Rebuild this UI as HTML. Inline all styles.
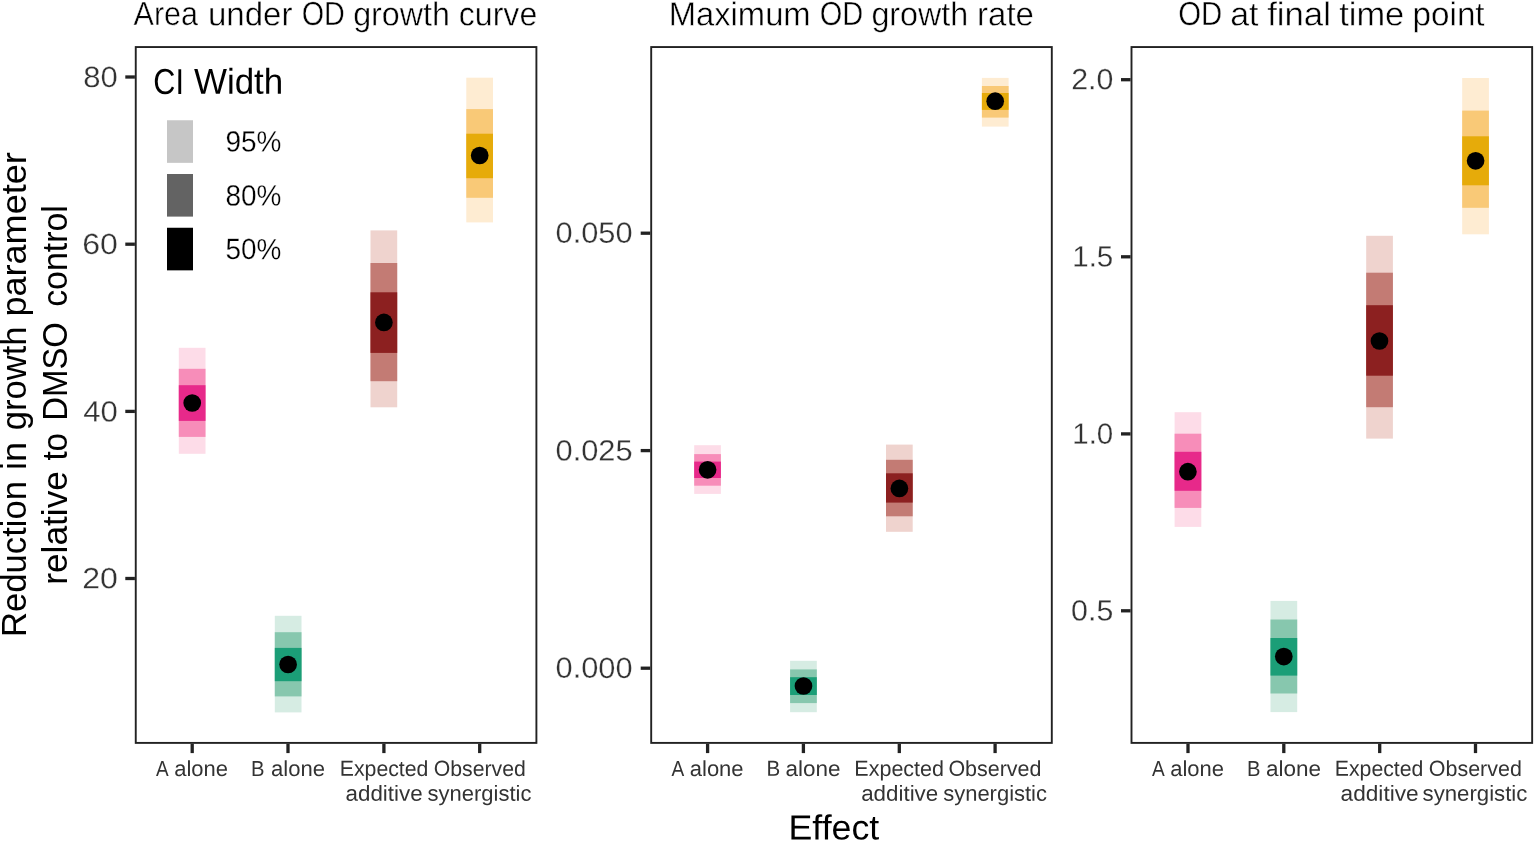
<!DOCTYPE html>
<html><head><meta charset="utf-8"><title>Effect plot</title>
<style>html,body{margin:0;padding:0;background:#fff}svg{display:block}</style></head>
<body>
<svg width="1535" height="842" viewBox="0 0 1535 842" font-family='"Liberation Sans", sans-serif'>
<rect width="1535" height="842" fill="#fff"/>
<rect x="178.8" y="347.8" width="26.7" height="106.0" fill="#fddce8"/>
<rect x="178.8" y="368.8" width="26.7" height="68.1" fill="#f78db9"/>
<rect x="178.8" y="385.2" width="26.7" height="35.7" fill="#e7298a"/>
<circle cx="192.2" cy="403.0" r="8.85" fill="#000"/>
<rect x="274.8" y="615.8" width="26.7" height="96.6" fill="#d6ece3"/>
<rect x="274.8" y="632.2" width="26.7" height="64.2" fill="#87c7ae"/>
<rect x="274.8" y="647.9" width="26.7" height="33.3" fill="#1b9e77"/>
<circle cx="288.1" cy="664.5" r="8.85" fill="#000"/>
<rect x="370.5" y="230.4" width="26.7" height="176.9" fill="#efd3ce"/>
<rect x="370.5" y="263.0" width="26.7" height="118.2" fill="#c37b74"/>
<rect x="370.5" y="292.3" width="26.7" height="60.6" fill="#8c2020"/>
<circle cx="383.9" cy="322.4" r="8.85" fill="#000"/>
<rect x="466.3" y="77.7" width="26.7" height="144.7" fill="#feecd2"/>
<rect x="466.3" y="109.1" width="26.7" height="88.7" fill="#f9c977"/>
<rect x="466.3" y="133.7" width="26.7" height="44.5" fill="#e6ab0a"/>
<circle cx="479.7" cy="155.5" r="8.85" fill="#000"/>
<rect x="694.2" y="445.2" width="26.7" height="48.7" fill="#fddce8"/>
<rect x="694.2" y="454.1" width="26.7" height="31.6" fill="#f78db9"/>
<rect x="694.2" y="461.6" width="26.7" height="16.4" fill="#e7298a"/>
<circle cx="707.6" cy="469.8" r="8.85" fill="#000"/>
<rect x="790.1" y="660.8" width="26.7" height="51.4" fill="#d6ece3"/>
<rect x="790.1" y="669.4" width="26.7" height="33.7" fill="#87c7ae"/>
<rect x="790.1" y="677.2" width="26.7" height="17.8" fill="#1b9e77"/>
<circle cx="803.5" cy="686.0" r="8.85" fill="#000"/>
<rect x="886.0" y="444.6" width="26.7" height="87.2" fill="#efd3ce"/>
<rect x="886.0" y="459.8" width="26.7" height="56.5" fill="#c37b74"/>
<rect x="886.0" y="473.3" width="26.7" height="29.3" fill="#8c2020"/>
<circle cx="899.4" cy="488.4" r="8.85" fill="#000"/>
<rect x="981.9" y="77.9" width="26.7" height="48.7" fill="#feecd2"/>
<rect x="981.9" y="86.0" width="26.7" height="31.6" fill="#f9c977"/>
<rect x="981.9" y="93.0" width="26.7" height="16.9" fill="#e6ab0a"/>
<circle cx="995.2" cy="101.2" r="8.85" fill="#000"/>
<rect x="1174.6" y="412.2" width="26.7" height="114.7" fill="#fddce8"/>
<rect x="1174.6" y="433.7" width="26.7" height="74.2" fill="#f78db9"/>
<rect x="1174.6" y="451.8" width="26.7" height="39.0" fill="#e7298a"/>
<circle cx="1187.9" cy="471.7" r="8.85" fill="#000"/>
<rect x="1270.5" y="600.9" width="26.7" height="111.2" fill="#d6ece3"/>
<rect x="1270.5" y="619.5" width="26.7" height="74.0" fill="#87c7ae"/>
<rect x="1270.5" y="638.0" width="26.7" height="37.6" fill="#1b9e77"/>
<circle cx="1283.8" cy="656.6" r="8.85" fill="#000"/>
<rect x="1366.2" y="235.8" width="26.7" height="202.8" fill="#efd3ce"/>
<rect x="1366.2" y="272.7" width="26.7" height="134.5" fill="#c37b74"/>
<rect x="1366.2" y="305.2" width="26.7" height="70.5" fill="#8c2020"/>
<circle cx="1379.5" cy="341.0" r="8.85" fill="#000"/>
<rect x="1462.2" y="78.0" width="26.7" height="156.3" fill="#feecd2"/>
<rect x="1462.2" y="110.6" width="26.7" height="97.2" fill="#f9c977"/>
<rect x="1462.2" y="136.3" width="26.7" height="49.0" fill="#e6ab0a"/>
<circle cx="1475.6" cy="160.8" r="8.85" fill="#000"/>
<rect x="135.75" y="47.05" width="400.65" height="695.85" fill="none" stroke="#222222" stroke-width="1.9"/>
<rect x="651.20" y="47.05" width="400.60" height="695.85" fill="none" stroke="#222222" stroke-width="1.9"/>
<rect x="1131.50" y="47.05" width="400.65" height="695.85" fill="none" stroke="#222222" stroke-width="1.9"/>
<line x1="192.2" y1="743.8" x2="192.2" y2="753.1" stroke="#222222" stroke-width="3.3"/>
<line x1="288.0" y1="743.8" x2="288.0" y2="753.1" stroke="#222222" stroke-width="3.3"/>
<line x1="383.9" y1="743.8" x2="383.9" y2="753.1" stroke="#222222" stroke-width="3.3"/>
<line x1="479.7" y1="743.8" x2="479.7" y2="753.1" stroke="#222222" stroke-width="3.3"/>
<line x1="707.6" y1="743.8" x2="707.6" y2="753.1" stroke="#222222" stroke-width="3.3"/>
<line x1="803.4" y1="743.8" x2="803.4" y2="753.1" stroke="#222222" stroke-width="3.3"/>
<line x1="899.3" y1="743.8" x2="899.3" y2="753.1" stroke="#222222" stroke-width="3.3"/>
<line x1="995.1" y1="743.8" x2="995.1" y2="753.1" stroke="#222222" stroke-width="3.3"/>
<line x1="1188.0" y1="743.8" x2="1188.0" y2="753.1" stroke="#222222" stroke-width="3.3"/>
<line x1="1283.8" y1="743.8" x2="1283.8" y2="753.1" stroke="#222222" stroke-width="3.3"/>
<line x1="1379.7" y1="743.8" x2="1379.7" y2="753.1" stroke="#222222" stroke-width="3.3"/>
<line x1="1475.5" y1="743.8" x2="1475.5" y2="753.1" stroke="#222222" stroke-width="3.3"/>
<line x1="125.3" y1="77.0" x2="134.9" y2="77.0" stroke="#222222" stroke-width="3.3"/>
<line x1="125.3" y1="244.2" x2="134.9" y2="244.2" stroke="#222222" stroke-width="3.3"/>
<line x1="125.3" y1="411.4" x2="134.9" y2="411.4" stroke="#222222" stroke-width="3.3"/>
<line x1="125.3" y1="578.5" x2="134.9" y2="578.5" stroke="#222222" stroke-width="3.3"/>
<line x1="640.7" y1="233.2" x2="650.3" y2="233.2" stroke="#222222" stroke-width="3.3"/>
<line x1="640.7" y1="450.6" x2="650.3" y2="450.6" stroke="#222222" stroke-width="3.3"/>
<line x1="640.7" y1="668.2" x2="650.3" y2="668.2" stroke="#222222" stroke-width="3.3"/>
<line x1="1121.0" y1="79.7" x2="1130.6" y2="79.7" stroke="#222222" stroke-width="3.3"/>
<line x1="1121.0" y1="256.8" x2="1130.6" y2="256.8" stroke="#222222" stroke-width="3.3"/>
<line x1="1121.0" y1="433.9" x2="1130.6" y2="433.9" stroke="#222222" stroke-width="3.3"/>
<line x1="1121.0" y1="610.8" x2="1130.6" y2="610.8" stroke="#222222" stroke-width="3.3"/>
<rect x="167.0" y="120.25" width="26.0" height="42.6" fill="#c6c6c6"/>
<rect x="167.0" y="174.0" width="26.0" height="42.6" fill="#636363"/>
<rect x="167.0" y="227.75" width="26.0" height="42.6" fill="#000000"/>
<text transform="rotate(0.03 191.8 775.90)" font-size="21.7" fill="#333333"><tspan x="156.00" y="775.90" textLength="11.60" lengthAdjust="spacingAndGlyphs">A</tspan> <tspan x="174.20" y="775.90" textLength="53.82" lengthAdjust="spacingAndGlyphs">alone</tspan></text>
<text transform="rotate(0.03 288.4 775.90)" font-size="21.7" fill="#333333"><tspan x="251.03" y="775.90" textLength="13.47" lengthAdjust="spacingAndGlyphs">B</tspan> <tspan x="270.98" y="775.90" textLength="54.03" lengthAdjust="spacingAndGlyphs">alone</tspan></text>
<text transform="rotate(0.03 383.9 775.90)" font-size="21.7" fill="#333333" x="339.76" y="775.90" textLength="88.67" lengthAdjust="spacingAndGlyphs">Expected</text>
<text transform="rotate(0.03 479.3 775.90)" font-size="21.7" fill="#333333" x="433.77" y="775.90" textLength="92.04" lengthAdjust="spacingAndGlyphs">Observed</text>
<text transform="rotate(0.03 383.9 800.70)" font-size="21.7" fill="#333333" x="345.57" y="800.70" textLength="77.04" lengthAdjust="spacingAndGlyphs">additive</text>
<text transform="rotate(0.03 479.5 800.70)" font-size="21.7" fill="#333333" x="427.59" y="800.70" textLength="103.81" lengthAdjust="spacingAndGlyphs">synergistic</text>
<text transform="rotate(0.03 707.1 775.90)" font-size="21.7" fill="#333333"><tspan x="671.57" y="775.90" textLength="11.69" lengthAdjust="spacingAndGlyphs">A</tspan> <tspan x="689.78" y="775.90" textLength="53.84" lengthAdjust="spacingAndGlyphs">alone</tspan></text>
<text transform="rotate(0.03 803.8 775.90)" font-size="21.7" fill="#333333"><tspan x="766.49" y="775.90" textLength="13.72" lengthAdjust="spacingAndGlyphs">B</tspan> <tspan x="785.58" y="775.90" textLength="55.05" lengthAdjust="spacingAndGlyphs">alone</tspan></text>
<text transform="rotate(0.03 899.3 775.90)" font-size="21.7" fill="#333333" x="854.35" y="775.90" textLength="89.68" lengthAdjust="spacingAndGlyphs">Expected</text>
<text transform="rotate(0.03 994.7 775.90)" font-size="21.7" fill="#333333" x="948.38" y="775.90" textLength="93.05" lengthAdjust="spacingAndGlyphs">Observed</text>
<text transform="rotate(0.03 899.3 800.70)" font-size="21.7" fill="#333333" x="861.19" y="800.70" textLength="77.01" lengthAdjust="spacingAndGlyphs">additive</text>
<text transform="rotate(0.03 994.9 800.70)" font-size="21.7" fill="#333333" x="943.19" y="800.70" textLength="103.81" lengthAdjust="spacingAndGlyphs">synergistic</text>
<text transform="rotate(0.03 1187.5 775.90)" font-size="21.7" fill="#333333"><tspan x="1151.94" y="775.90" textLength="11.69" lengthAdjust="spacingAndGlyphs">A</tspan> <tspan x="1170.18" y="775.90" textLength="53.82" lengthAdjust="spacingAndGlyphs">alone</tspan></text>
<text transform="rotate(0.03 1284.2 775.90)" font-size="21.7" fill="#333333"><tspan x="1247.02" y="775.90" textLength="13.47" lengthAdjust="spacingAndGlyphs">B</tspan> <tspan x="1265.97" y="775.90" textLength="55.05" lengthAdjust="spacingAndGlyphs">alone</tspan></text>
<text transform="rotate(0.03 1379.7 775.90)" font-size="21.7" fill="#333333" x="1334.76" y="775.90" textLength="88.67" lengthAdjust="spacingAndGlyphs">Expected</text>
<text transform="rotate(0.03 1475.1 775.90)" font-size="21.7" fill="#333333" x="1428.79" y="775.90" textLength="93.05" lengthAdjust="spacingAndGlyphs">Observed</text>
<text transform="rotate(0.03 1379.7 800.70)" font-size="21.7" fill="#333333" x="1340.59" y="800.70" textLength="78.04" lengthAdjust="spacingAndGlyphs">additive</text>
<text transform="rotate(0.03 1475.2 800.70)" font-size="21.7" fill="#333333" x="1422.59" y="800.70" textLength="104.82" lengthAdjust="spacingAndGlyphs">synergistic</text>
<text transform="rotate(0.03 100.4 87.09)" font-size="29.3" fill="#333333" stroke="#fff" stroke-width="0.25" x="83.35" y="87.09" textLength="34.50" lengthAdjust="spacingAndGlyphs">80</text>
<text transform="rotate(0.03 100.4 254.04)" font-size="29.3" fill="#333333" stroke="#fff" stroke-width="0.25" x="82.28" y="254.04" textLength="35.62" lengthAdjust="spacingAndGlyphs">60</text>
<text transform="rotate(0.03 100.4 421.50)" font-size="29.3" fill="#333333" stroke="#fff" stroke-width="0.25" x="83.37" y="421.50" textLength="34.50" lengthAdjust="spacingAndGlyphs">40</text>
<text transform="rotate(0.03 100.4 588.32)" font-size="29.3" fill="#333333" stroke="#fff" stroke-width="0.25" x="82.28" y="588.32" textLength="35.62" lengthAdjust="spacingAndGlyphs">20</text>
<text transform="rotate(0.03 594.4 242.76)" font-size="29.3" fill="#333333" stroke="#fff" stroke-width="0.25" x="555.57" y="242.76" textLength="77.05" lengthAdjust="spacingAndGlyphs">0.050</text>
<text transform="rotate(0.03 594.4 460.53)" font-size="29.3" fill="#333333" stroke="#fff" stroke-width="0.25" x="555.57" y="460.53" textLength="77.05" lengthAdjust="spacingAndGlyphs">0.025</text>
<text transform="rotate(0.03 594.4 677.88)" font-size="29.3" fill="#333333" stroke="#fff" stroke-width="0.25" x="555.57" y="677.88" textLength="77.05" lengthAdjust="spacingAndGlyphs">0.000</text>
<text transform="rotate(0.03 1092.3 89.32)" font-size="29.3" fill="#333333" stroke="#fff" stroke-width="0.25" x="1071.16" y="89.32" textLength="42.11" lengthAdjust="spacingAndGlyphs">2.0</text>
<text transform="rotate(0.03 1093.2 266.51)" font-size="29.3" fill="#333333" stroke="#fff" stroke-width="0.25" x="1072.26" y="266.51" textLength="41.05" lengthAdjust="spacingAndGlyphs">1.5</text>
<text transform="rotate(0.03 1093.2 443.67)" font-size="29.3" fill="#333333" stroke="#fff" stroke-width="0.25" x="1072.26" y="443.67" textLength="41.05" lengthAdjust="spacingAndGlyphs">1.0</text>
<text transform="rotate(0.03 1092.3 620.61)" font-size="29.3" fill="#333333" stroke="#fff" stroke-width="0.25" x="1071.14" y="620.61" textLength="42.13" lengthAdjust="spacingAndGlyphs">0.5</text>
<text transform="rotate(0.03 335.3 25.50)" font-size="33.3" fill="#000" stroke="#fff" stroke-width="0.45"><tspan x="133.59" y="25.50" textLength="64.41" lengthAdjust="spacingAndGlyphs">Area</tspan> <tspan x="207.94" y="25.50" textLength="84.46" lengthAdjust="spacingAndGlyphs">under</tspan> <tspan x="301.73" y="25.50" textLength="43.10" lengthAdjust="spacingAndGlyphs">OD</tspan> <tspan x="353.17" y="25.50" textLength="96.69" lengthAdjust="spacingAndGlyphs">growth</tspan> <tspan x="458.77" y="25.50" textLength="78.48" lengthAdjust="spacingAndGlyphs">curve</tspan></text>
<text transform="rotate(0.03 851.7 25.50)" font-size="33.3" fill="#000" stroke="#fff" stroke-width="0.45"><tspan x="668.73" y="25.50" textLength="141.92" lengthAdjust="spacingAndGlyphs">Maximum</tspan> <tspan x="819.72" y="25.50" textLength="43.56" lengthAdjust="spacingAndGlyphs">OD</tspan> <tspan x="871.38" y="25.50" textLength="96.87" lengthAdjust="spacingAndGlyphs">growth</tspan> <tspan x="977.08" y="25.50" textLength="56.82" lengthAdjust="spacingAndGlyphs">rate</tspan></text>
<text transform="rotate(0.03 1331.8 25.50)" font-size="33.3" fill="#000" stroke="#fff" stroke-width="0.45"><tspan x="1178.16" y="25.50" textLength="44.10" lengthAdjust="spacingAndGlyphs">OD</tspan> <tspan x="1230.15" y="25.50" textLength="28.26" lengthAdjust="spacingAndGlyphs">at</tspan> <tspan x="1267.19" y="25.50" textLength="63.70" lengthAdjust="spacingAndGlyphs">final</tspan> <tspan x="1339.18" y="25.50" textLength="65.07" lengthAdjust="spacingAndGlyphs">time</tspan> <tspan x="1412.55" y="25.50" textLength="72.06" lengthAdjust="spacingAndGlyphs">point</tspan></text>
<text transform="rotate(0.03 835.1 839.60)" font-size="34.9" fill="#000" x="788.55" y="839.60" textLength="90.66" lengthAdjust="spacingAndGlyphs">Effect</text>
<text transform="translate(26.30,0) rotate(-90)" font-size="34.9" fill="#000"><tspan x="-637.07" y="0" textLength="156.11" lengthAdjust="spacingAndGlyphs">Reduction</tspan> <tspan x="-469.96" y="0" textLength="28.10" lengthAdjust="spacingAndGlyphs">in</tspan> <tspan x="-430.24" y="0" textLength="103.68" lengthAdjust="spacingAndGlyphs">growth</tspan> <tspan x="-316.63" y="0" textLength="164.43" lengthAdjust="spacingAndGlyphs">parameter</tspan></text>
<text transform="translate(66.70,0) rotate(-90)" font-size="34.9" fill="#000"><tspan x="-584.86" y="0" textLength="113.88" lengthAdjust="spacingAndGlyphs">relative</tspan> <tspan x="-460.60" y="0" textLength="27.63" lengthAdjust="spacingAndGlyphs">to</tspan> <tspan x="-420.70" y="0" textLength="98.55" lengthAdjust="spacingAndGlyphs">DMSO</tspan> <tspan x="-306.83" y="0" textLength="101.69" lengthAdjust="spacingAndGlyphs">control</tspan></text>
<text transform="rotate(0.03 217.9 93.80)" font-size="36.0" fill="#000"><tspan x="153.29" y="93.80" textLength="30.61" lengthAdjust="spacingAndGlyphs">CI</tspan> <tspan x="193.98" y="93.80" textLength="89.26" lengthAdjust="spacingAndGlyphs">Width</tspan></text>
<text transform="rotate(0.03 254.0 151.57)" font-size="29.3" fill="#000" stroke="#fff" stroke-width="0.25" x="225.57" y="151.57" textLength="55.88" lengthAdjust="spacingAndGlyphs">95%</text>
<text transform="rotate(0.03 254.0 205.46)" font-size="29.3" fill="#000" stroke="#fff" stroke-width="0.25" x="225.57" y="205.46" textLength="55.88" lengthAdjust="spacingAndGlyphs">80%</text>
<text transform="rotate(0.03 254.0 259.14)" font-size="29.3" fill="#000" stroke="#fff" stroke-width="0.25" x="225.57" y="259.14" textLength="55.88" lengthAdjust="spacingAndGlyphs">50%</text>
</svg>
</body></html>
